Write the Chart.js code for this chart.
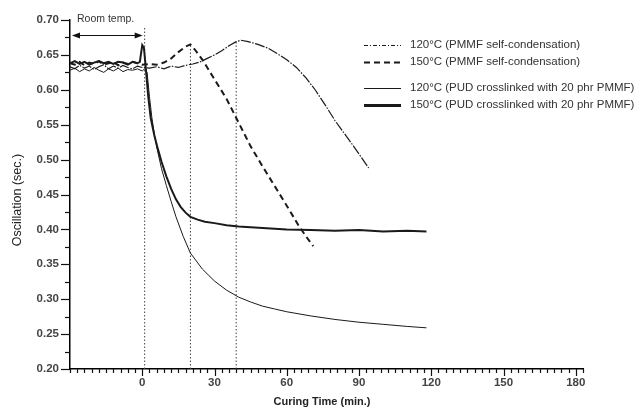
<!DOCTYPE html>
<html>
<head>
<meta charset="utf-8">
<script src="https://cdn.jsdelivr.net/npm/chart.js@4.4.1/dist/chart.umd.min.js"></script>
<style>
  html, body { margin: 0; padding: 0; background: #fff; }
</style>
</head>
<body>
<canvas id="curing" width="640" height="420"></canvas>
<script>
// Datos (tiempo en min, oscilación en s)
const roomT = [-30, -28, -26, -24, -22, -20, -18, -16, -14, -12, -10, -8, -6, -4, -2];

const pmmf120T = roomT.concat([0, 3, 6, 9, 12, 15, 18, 21, 24, 27, 30, 33, 36, 39, 41, 44, 48, 52, 56, 60, 64, 68, 72, 76, 80, 84, 88, 91, 94]);
const pmmf120V = [0.633, 0.630, 0.635, 0.631, 0.634, 0.629, 0.633, 0.636, 0.630, 0.634, 0.631, 0.635, 0.632, 0.630, 0.634,
  0.632, 0.631, 0.633, 0.630, 0.634, 0.632, 0.635, 0.637, 0.640, 0.645, 0.650, 0.656, 0.663, 0.669, 0.671, 0.669, 0.665,
  0.660, 0.652, 0.643, 0.632, 0.617, 0.599, 0.578, 0.556, 0.537, 0.518, 0.503, 0.488];

const pmmf150T = roomT.concat([0, 3, 6, 9, 12, 15, 18, 20, 22, 25, 30, 35, 40, 45, 50, 55, 60, 65, 68, 71]);
const pmmf150V = [0.638, 0.636, 0.640, 0.635, 0.639, 0.637, 0.641, 0.636, 0.638, 0.640, 0.635, 0.639, 0.637, 0.640, 0.638,
  0.636, 0.637, 0.636, 0.639, 0.645, 0.654, 0.662, 0.665, 0.657, 0.643, 0.615, 0.587, 0.553, 0.519, 0.490, 0.462, 0.434,
  0.405, 0.390, 0.376];

const pud120T = roomT.concat([0, 1, 2, 3, 4, 5, 6, 8, 10, 12, 14, 17, 20, 25, 30, 35, 40, 45, 50, 55, 60, 70, 80, 90, 100, 110, 118]);
const pud120V = [0.628, 0.631, 0.626, 0.630, 0.627, 0.632, 0.628, 0.625, 0.630, 0.627, 0.631, 0.626, 0.629, 0.628, 0.630,
  0.627, 0.630, 0.625, 0.590, 0.560, 0.537, 0.518, 0.487, 0.463, 0.440, 0.418, 0.390, 0.366, 0.343, 0.326, 0.313, 0.303,
  0.296, 0.290, 0.286, 0.282, 0.276, 0.271, 0.267, 0.264, 0.261, 0.259];

const pud150T = roomT.concat([-1, 0, 0.7, 1.5, 2.5, 3.5, 5, 6.5, 8, 10, 12, 14, 16, 18, 20, 23, 26, 30, 35, 40, 50, 60, 70, 80, 90, 100, 110, 118]);
const pud150V = [0.638, 0.641, 0.637, 0.640, 0.636, 0.639, 0.641, 0.638, 0.640, 0.637, 0.640, 0.639, 0.636, 0.640, 0.638,
  0.640, 0.664, 0.660, 0.630, 0.590, 0.560, 0.535, 0.515, 0.497, 0.476, 0.458, 0.443, 0.432, 0.424, 0.418, 0.414, 0.411,
  0.409, 0.406, 0.404, 0.402, 0.400, 0.399, 0.398, 0.399, 0.397, 0.398, 0.397];

// Líneas punteadas verticales (tiempo y altura superior)
const markerT = [1, 20, 39];
const markerTop = [0.69, 0.665, 0.67];

// Ejes
const xMin = -30, xMax = 183, xStep = 3;
const yMin = 0.20, yMax = 0.70, yStep = 0.025;

// Flecha "Room temp."
const roomArrowEnd = 1;
const roomArrowY = 0.678;

const legendLabels = [
  '120°C (PMMF self-condensation)',
  '150°C (PMMF self-condensation)',
  '120°C (PUD crosslinked with 20 phr PMMF)',
  '150°C (PUD crosslinked with 20 phr PMMF)'
];

const FONT = "'Liberation Sans', Arial, sans-serif";
const INK = '#1a1a1a';
Chart.defaults.font.family = FONT;
Chart.defaults.color = '#333';

const toPts = (ts, vs) => ts.map((t, i) => ({ x: t, y: vs[i] }));

const styles = [
  { borderWidth: 1.2, borderDash: [10, 1.5, 1.5, 1.5] },
  { borderWidth: 2, borderDash: [6, 4] },
  { borderWidth: 1, borderDash: [] },
  { borderWidth: 2, borderDash: [] }
];

const series = [
  toPts(pmmf120T, pmmf120V),
  toPts(pmmf150T, pmmf150V),
  toPts(pud120T, pud120V),
  toPts(pud150T, pud150V)
];

const datasets = series.map((pts, i) => ({
  label: legendLabels[i],
  data: pts,
  borderColor: INK,
  borderWidth: styles[i].borderWidth,
  borderDash: styles[i].borderDash,
  pointRadius: 0,
  fill: false,
  tension: 0
}));

markerT.forEach((t, i) => {
  datasets.push({
    label: 'marker' + i,
    data: [{ x: t, y: yMin }, { x: t, y: markerTop[i] }],
    borderColor: '#444',
    borderWidth: 1,
    borderDash: [1.5, 2],
    pointRadius: 0,
    fill: false
  });
});

// Marcas de ejes, anotaciones, leyenda y títulos
const decor = {
  id: 'decor',
  afterDraw(chart) {
    const { ctx, chartArea: a } = chart;
    const xs = chart.scales.x, ys = chart.scales.y;
    ctx.save();
    ctx.strokeStyle = '#111';
    ctx.lineWidth = 1.2;

    // ticks Y hacia afuera
    ys.ticks.forEach(tk => {
      const y = Math.round(ys.getPixelForValue(tk.value)) + 0.5;
      const len = tk.label !== '' ? 9 : 5;
      ctx.beginPath(); ctx.moveTo(a.left - len, y); ctx.lineTo(a.left, y); ctx.stroke();
    });
    // ticks X hacia abajo
    xs.ticks.forEach(tk => {
      if (tk.value > xMax) return;
      const x = Math.round(xs.getPixelForValue(tk.value)) + 0.5;
      const len = tk.label !== '' ? 7 : 4;
      ctx.beginPath(); ctx.moveTo(x, a.bottom); ctx.lineTo(x, a.bottom + len); ctx.stroke();
    });

    // flecha doble "Room temp."
    const ay = Math.round(ys.getPixelForValue(roomArrowY)) + 0.5;
    const ax1 = xs.getPixelForValue(xMin) + 2;
    const ax2 = xs.getPixelForValue(roomArrowEnd) - 2;
    ctx.lineWidth = 1.2;
    ctx.beginPath(); ctx.moveTo(ax1 + 6, ay); ctx.lineTo(ax2 - 6, ay); ctx.stroke();
    ctx.fillStyle = '#111';
    ctx.beginPath(); ctx.moveTo(ax1, ay); ctx.lineTo(ax1 + 8, ay - 3); ctx.lineTo(ax1 + 8, ay + 3); ctx.closePath(); ctx.fill();
    ctx.beginPath(); ctx.moveTo(ax2, ay); ctx.lineTo(ax2 - 8, ay - 3); ctx.lineTo(ax2 - 8, ay + 3); ctx.closePath(); ctx.fill();

    ctx.fillStyle = '#333';
    ctx.font = '10.5px ' + FONT;
    ctx.textAlign = 'left';
    ctx.textBaseline = 'middle';
    ctx.fillText('Room temp.', 77, 19);

    // leyenda
    const rows = [45, 62, 88, 105];
    ctx.font = '11.5px ' + FONT;
    rows.forEach((ry, i) => {
      ctx.save();
      ctx.strokeStyle = INK;
      ctx.lineWidth = i === 0 ? 1 : styles[i].borderWidth + (i === 3 ? 0.8 : 0);
      ctx.setLineDash(i === 0 ? [4, 2, 1, 2] : styles[i].borderDash);
      ctx.beginPath(); ctx.moveTo(364, ry + 0.5); ctx.lineTo(401, ry + 0.5); ctx.stroke();
      ctx.restore();
      ctx.fillText(legendLabels[i], 410, ry);
    });

    // títulos de ejes
    ctx.fillStyle = '#222';
    ctx.font = '12.5px ' + FONT;
    ctx.textAlign = 'center';
    ctx.save();
    ctx.translate(18, 200);
    ctx.rotate(-Math.PI / 2);
    ctx.fillText('Oscillation (sec.)', 0, 0);
    ctx.restore();
    ctx.font = 'bold 11px ' + FONT;
    ctx.fillText('Curing Time (min.)', 322, 402);
    ctx.restore();
  }
};

new Chart(document.getElementById('curing'), {
  type: 'line',
  data: { datasets },
  options: {
    responsive: false,
    animation: false,
    devicePixelRatio: 1,
    layout: { padding: { left: 0, top: 20, right: 57, bottom: 0 } },
    plugins: { legend: { display: false }, tooltip: { enabled: false } },
    scales: {
      x: {
        type: 'linear',
        min: xMin, max: xMax,
        afterFit: s => { s.height = 51; },
        grid: { display: true, drawOnChartArea: false, drawTicks: false },
        border: { display: true, color: '#000', width: 1.5 },
        ticks: {
          stepSize: xStep, autoSkip: false, maxRotation: 0, padding: 7,
          color: '#444', font: { size: 11.5, weight: 'bold' },
          callback: v => (v >= 0 && v % 30 === 0) ? String(v) : ''
        }
      },
      y: {
        min: yMin, max: yMax,
        afterFit: s => { s.width = 70; },
        grid: { display: true, drawOnChartArea: false, drawTicks: false },
        border: { display: true, color: '#000', width: 1.5 },
        ticks: {
          stepSize: yStep, autoSkip: false, padding: 11,
          color: '#444', font: { size: 11.5, weight: 'bold' },
          callback: v => Math.abs(v * 20 - Math.round(v * 20)) < 1e-6 ? v.toFixed(2) : ''
        }
      }
    }
  },
  plugins: [decor]
});
</script>
</body>
</html>
